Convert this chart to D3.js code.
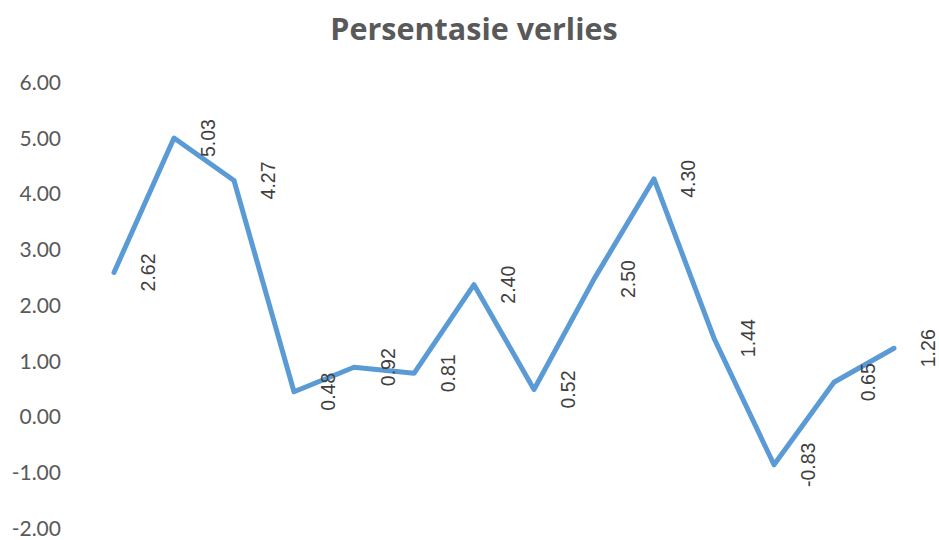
<!DOCTYPE html>
<html><head><meta charset="utf-8">
<script src="https://cdn.jsdelivr.net/npm/d3@7"></script>
<style>body{margin:0;background:#fff}</style>
</head><body>
<svg id="c" width="939" height="540"></svg>
<script>
const categories = ["1","2","3","4","5","6","7","8","9","10","11","12","13","14"];
const values = [2.62, 5.03, 4.27, 0.48, 0.92, 0.81, 2.40, 0.52, 2.50, 4.30, 1.44, -0.83, 0.65, 1.26];
const yTicks = [-2, -1, 0, 1, 2, 3, 4, 5, 6];
const title = "Persentasie verlies";

const fmt = d => d3.format(".2f")(d).replace("\u2212", "-");
const svg = d3.select("#c");
const x = d3.scalePoint().domain(categories).range([84, 924]).padding(0.5);
const y = d3.scaleLinear().domain([-2, 6]).range([530, 84]);

svg.append("text").attr("x", 474).attr("y", 40).attr("text-anchor", "middle")
  .attr("font-family", "'Open Sans', 'Noto Sans', sans-serif").attr("font-weight", "bold")
  .attr("font-size", 30.5).attr("fill", "#595959").text(title);

const axis = d3.axisLeft(y).tickValues(yTicks).tickFormat(fmt).tickSize(0).tickPadding(0);
const ag = svg.append("g").attr("transform", "translate(61,0)").call(axis);
ag.select(".domain").remove();
ag.selectAll("text").attr("font-family", "Lato, 'Open Sans', sans-serif")
  .attr("font-size", 21).attr("dy", "0.26em").attr("fill", "#595959");

const line = d3.line().x((d, i) => x(categories[i])).y(d => y(d));
svg.append("path").datum(values).attr("d", line).attr("fill", "none")
  .attr("stroke", "#5B9BD5").attr("stroke-width", 5)
  .attr("stroke-linejoin", "round").attr("stroke-linecap", "round");

svg.append("g").selectAll("text").data(values).join("text")
  .attr("transform", (d, i) => `translate(${x(categories[i]) + 34},${y(d)}) rotate(-90)`)
  .attr("text-anchor", "middle").attr("dominant-baseline", "central")
  .attr("font-family", "'Liberation Sans', Arial, sans-serif").attr("font-size", 19.5)
  .attr("fill", "#404040").text(d => fmt(d));
</script>
</body></html>
